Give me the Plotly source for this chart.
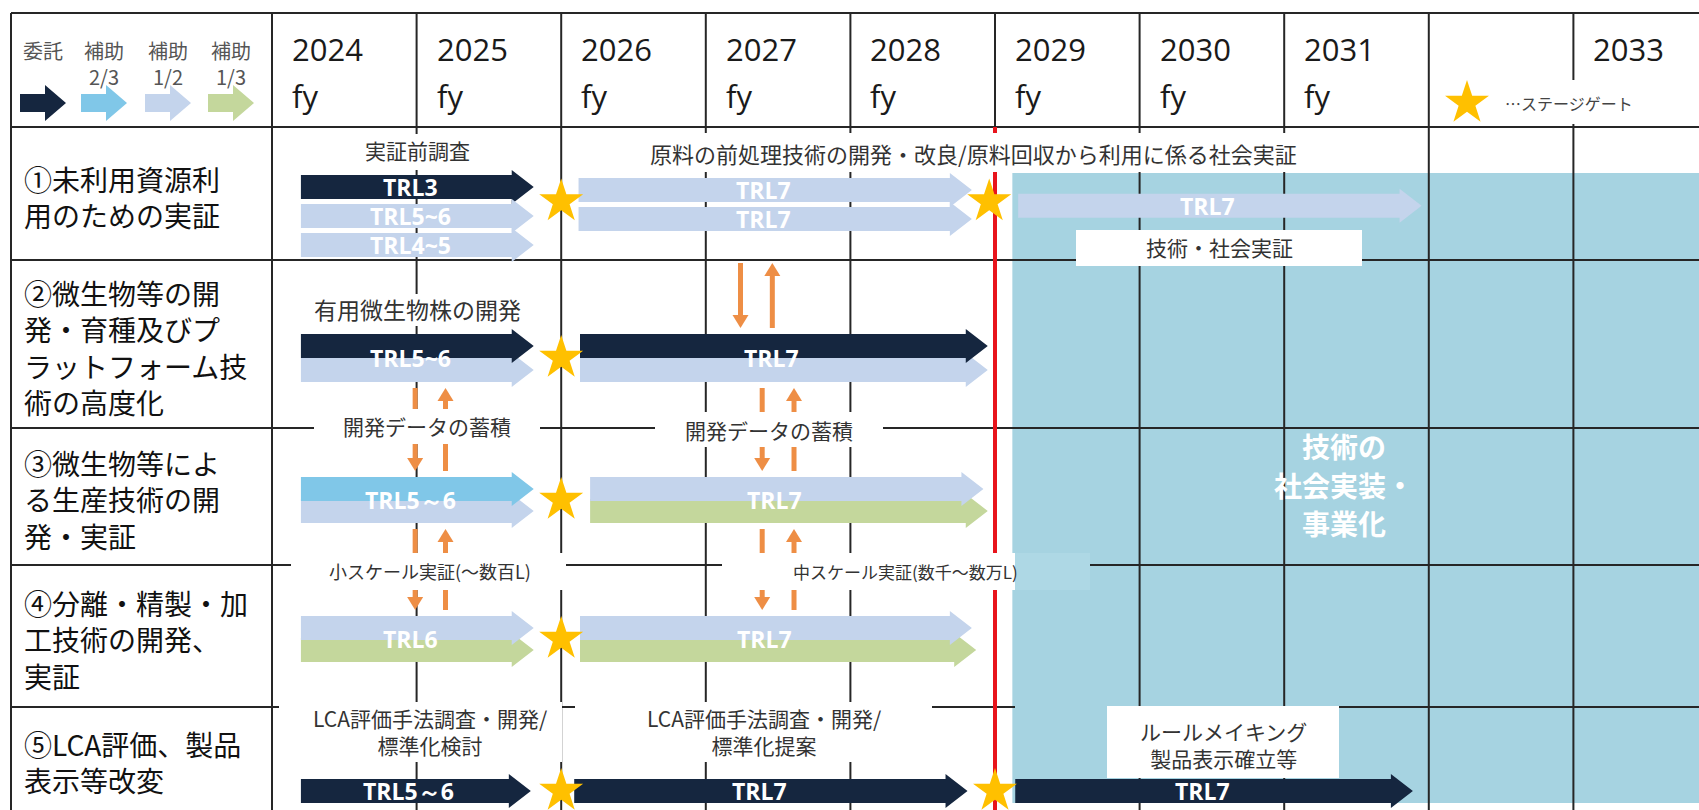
import plotly.graph_objects as go

# ======================= DATA =======================
funding_labels = ["委託", "補助<br>2/3", "補助<br>1/2", "補助<br>1/3"]
funding_colors = ["#15263F", "#80C7E8", "#C4D4EC", "#C4D79C"]

first_year = 2024
year_labels = ["2024", "2025", "2026", "2027", "2028", "2029", "2030", "2031", "", "2033"]
fy_labels = ["fy", "fy", "fy", "fy", "fy", "fy", "fy", "fy", "", ""]

row_labels = [
    ["①未利用資源利", "用のための実証"],
    ["②微生物等の開", "発・育種及びプ", "ラットフォーム技", "術の高度化"],
    ["③微生物等によ", "る生産技術の開", "発・実証"],
    ["④分離・精製・加", "工技術の開発、", "実証"],
    ["⑤LCA評価、製品", "表示等改変"],
]

# TRL arrows (row, lane, start year, end year, funding type, label, label lane)
arrow_row = [0, 0, 0, 0, 0, 0,
             1, 1, 1, 1,
             2, 2, 2, 2,
             3, 3, 3, 3,
             4, 4, 4]
arrow_lane = [0, 1, 2, 0.1, 1.1, 0.65,
              1, 0, 1, 0,
              1, 0, 1, 0,
              1, 0, 1, 0,
              0, 0, 0]
arrow_start = [2024.20, 2024.20, 2024.20, 2026.12, 2026.12, 2029.16,
               2024.20, 2024.20, 2026.13, 2026.13,
               2024.20, 2024.20, 2026.20, 2026.20,
               2024.20, 2024.20, 2026.13, 2026.13,
               2024.20, 2026.09, 2029.14]
arrow_end = [2025.81, 2025.81, 2025.81, 2028.84, 2028.84, 2031.95,
             2025.81, 2025.81, 2028.95, 2028.95,
             2025.81, 2025.81, 2028.95, 2028.92,
             2025.81, 2025.81, 2028.87, 2028.84,
             2025.79, 2028.81, 2031.89]
arrow_kind = [0, 2, 2, 2, 2, 2,
              2, 0, 2, 0,
              2, 1, 3, 2,
              3, 2, 3, 2,
              0, 0, 0]
arrow_text = ["TRL3", "TRL5~6", "TRL4~5", "TRL7", "TRL7", "TRL7",
              "", "TRL5~6", "", "TRL7",
              "", "TRL5～6", "", "TRL7",
              "", "TRL6", "", "TRL7",
              "TRL5～6", "TRL7", "TRL7"]
arrow_text_lane = [0, 1, 2, 0.1, 1.1, 0.65,
                   None, 0.5, None, 0.5,
                   None, 0.5, None, 0.5,
                   None, 0.5, None, 0.5,
                   0, 0, 0]

# stage gates (row, year)
gate_row = [0, 0, 1, 2, 3, 4, 4]
gate_year = [2026.0, 2028.96, 2026.0, 2026.0, 2026.0, 2026.0, 2029.0]

# data-exchange links between rows (upper row, year, direction)
link_upper_row = [0, 0, 1, 1, 1, 1, 2, 2, 2, 2]
link_year = [2027.24, 2027.46, 2024.99, 2025.20, 2027.39, 2027.61,
             2024.99, 2025.20, 2027.39, 2027.61]
link_dir = ["down", "up", "down", "up", "down", "up", "down", "up", "down", "up"]

red_line_year = 2029.0
implementation_start = 2029.12

task_texts = [
    "実証前調査",
    "原料の前処理技術の開発・改良/原料回収から利用に係る社会実証",
    "技術・社会実証",
    "有用微生物株の開発",
    "開発データの蓄積",
    "開発データの蓄積",
    "小スケール実証(～数百L)",
    "中スケール実証(数千～数万L)",
    "LCA評価手法調査・開発/<br>標準化検討",
    "LCA評価手法調査・開発/<br>標準化提案",
    "ルールメイキング<br>製品表示確立等",
]
implementation_lines = ["技術の", "社会実装・", "事業化"]
stage_gate_text = "…ステージゲート"

# ======================= LAYOUT CONSTANTS =======================
W, H = 1699, 810
PX_FIRST = 272.0
COLW = 144.6
TABLE_LEFT = 11
TABLE_TOP = 13
HEADER_BOTTOM = 127
ROW_EDGES = [127, 260, 428, 565, 707, 810]
LANE_Y = [[187, 216, 245], [346, 370], [489, 511], [628, 650], [791]]
SHADE_TOP, SHADE_BOTTOM = 173, 803
SHADE = "#A6D3E1"
GRID = "#262626"
ORANGE = "#EE8E45"
JP = "Noto Sans CJK JP"
LAT = "Open Sans"

# task label placement: (centre px x, centre px y, font size)
task_pos = [(417, 150, 21), (973, 153, 22), (1219, 247, 21), (417, 309, 23),
            (427, 426, 21), (769, 430, 21), (430, 571, 18), (905, 571, 17),
            (430, 731, 21), (764, 731, 21), (1223, 744, 21)]
# white masks behind labels (px x0, x1, y0, y1)
masks = [(355, 480, 134, 170), (635, 1310, 133, 172), (1076, 1362, 230, 266),
         (300, 535, 294, 326), (314, 540, 409, 444), (655, 883, 412, 447),
         (291, 566, 553, 590), (722, 1015, 553, 590), (279, 562, 702, 762),
         (575, 932, 702, 762), (1107, 1339, 706, 778), (1440, 1699, 80, 124)]


def X(px):
    return first_year + (px - PX_FIRST) / COLW


def DX(px):
    return px / COLW


def lane_y(row, lane):
    ys = LANE_Y[row]
    if len(ys) == 1:
        return ys[0]
    return ys[0] + lane * (ys[1] - ys[0])


shapes = []
annotations = []


def add_rect(x0, x1, y0, y1, fill):
    shapes.append(dict(type="rect", xref="x", yref="y", x0=x0, x1=x1, y0=y0, y1=y1,
                       fillcolor=fill, line=dict(width=0), layer="below"))


def add_line(x0, y0, x1, y1, color=GRID, width=2):
    shapes.append(dict(type="line", xref="x", yref="y", x0=x0, y0=y0, x1=x1, y1=y1,
                       line=dict(color=color, width=width), layer="below"))


def add_arrow(x0, x1, yc, color, h=12, hh=17, hl=22):
    xh = x1 - DX(hl)
    path = (f"M{x0},{yc-h} L{xh},{yc-h} L{xh},{yc-hh} L{x1},{yc} "
            f"L{xh},{yc+hh} L{xh},{yc+h} L{x0},{yc+h} Z")
    shapes.append(dict(type="path", xref="x", yref="y", path=path,
                       fillcolor=color, line=dict(width=0), layer="below"))


def add_text(px, py, text, size, color="#333", family=JP, xanchor="center",
             yanchor="middle", align="center"):
    annotations.append(dict(xref="x", yref="y", x=X(px), y=py, text=text, showarrow=False,
                            xanchor=xanchor, yanchor=yanchor, align=align,
                            font=dict(size=size, color=color, family=family)))


# shaded implementation area
add_rect(implementation_start, X(W + 5), SHADE_TOP, SHADE_BOTTOM, SHADE)

# grid lines
for y in [TABLE_TOP, HEADER_BOTTOM] + ROW_EDGES[1:-1]:
    add_line(X(TABLE_LEFT), y, X(W + 5), y)
add_line(X(TABLE_LEFT), TABLE_TOP, X(TABLE_LEFT), H)
for i in range(len(year_labels)):
    add_line(first_year + i, TABLE_TOP, first_year + i, H)

# red line
add_line(red_line_year, HEADER_BOTTOM, red_line_year, H, color="#E8141C", width=4)

# TRL arrows
for r, ln, s, e, k in zip(arrow_row, arrow_lane, arrow_start, arrow_end, arrow_kind):
    add_arrow(s, e, lane_y(r, ln), funding_colors[k])

# orange links
for ur, x, d in zip(link_upper_row, link_year, link_dir):
    top = max(LANE_Y[ur]) + 18
    bot = min(LANE_Y[ur + 1]) - 18
    hw, hl = DX(8), 13
    if d == "down":
        add_line(x, top, x, bot - hl + 1, color=ORANGE, width=5)
        path = f"M{x-hw},{bot-hl} L{x+hw},{bot-hl} L{x},{bot} Z"
    else:
        add_line(x, top + hl - 1, x, bot, color=ORANGE, width=5)
        path = f"M{x-hw},{top+hl} L{x+hw},{top+hl} L{x},{top} Z"
    shapes.append(dict(type="path", xref="x", yref="y", path=path, fillcolor=ORANGE,
                       line=dict(width=0), layer="below"))

# white masks behind labels
for (x0, x1, y0, y1) in masks:
    add_rect(X(x0), X(x1), y0, y1, "white")
# shade-coloured masks over row lines in the shaded area
add_rect(X(1015), X(1090), 553, 590, "#AED8E5")
add_rect(X(1015), X(1107), 700, 714, SHADE)

# legend arrows in header
legend_cx = [43, 104, 168, 231]
for i, c in enumerate(funding_colors):
    add_arrow(X(legend_cx[i] - 23), X(legend_cx[i] + 23), 103, c, h=9, hh=18, hl=21)
    add_text(legend_cx[i], 34, funding_labels[i], 20, color="#555", yanchor="top")

# year header
for i, (yl, fl) in enumerate(zip(year_labels, fy_labels)):
    left_px = PX_FIRST + i * COLW + 18
    if yl:
        add_text(left_px, 49, yl, 31, color="#1a1a1a", family=LAT, xanchor="left")
    if fl:
        add_text(left_px, 96, fl, 31, color="#1a1a1a", family=LAT, xanchor="left")

# stage gate legend text
add_text(1503, 103, stage_gate_text, 16, color="#444", xanchor="left")

# row labels (one block per row)
for r, lines in enumerate(row_labels):
    cy = (ROW_EDGES[r] + ROW_EDGES[r + 1]) / 2 + 3
    add_text(22, cy, "<br>".join(lines), 28, color="#111", xanchor="left", align="left")

# task labels
for t, (px, py, fs) in zip(task_texts, task_pos):
    add_text(px, py, t, fs, color="#333")

# TRL labels on arrows
for r, s, e, t, tl in zip(arrow_row, arrow_start, arrow_end, arrow_text, arrow_text_lane):
    if t and tl is not None:
        cx = s + 0.47 * (e - s)
        annotations.append(dict(xref="x", yref="y", x=cx, y=lane_y(r, tl), text=f"<b>{t}</b>",
                                showarrow=False, xanchor="center", yanchor="middle",
                                font=dict(size=23, color="white", family=LAT)))

# implementation text (one annotation per line)
for j, t in enumerate(implementation_lines):
    add_text(1344, 446 + j * 38.5, f"<b>{t}</b>", 28, color="white")

fig = go.Figure()
gx = list(gate_year)
gy = [(LANE_Y[r][0] + LANE_Y[r][1]) / 2 if len(LANE_Y[r]) > 1 else LANE_Y[r][0] for r in gate_row]
fig.add_trace(go.Scatter(x=gx, y=gy, mode="markers", hoverinfo="skip",
                         marker=dict(symbol="star", size=33, color="#FFC000", line=dict(width=0))))
fig.add_trace(go.Scatter(x=[X(1467)], y=[103], mode="markers", hoverinfo="skip",
                         marker=dict(symbol="star", size=33, color="#FFC000", line=dict(width=0))))

fig.update_layout(
    width=W, height=H, margin=dict(l=0, r=0, t=0, b=0),
    paper_bgcolor="white", plot_bgcolor="white", showlegend=False,
    xaxis=dict(range=[X(0), X(W)], visible=False, fixedrange=True),
    yaxis=dict(range=[H, 0], visible=False, fixedrange=True),
    shapes=shapes, annotations=annotations,
)

fig.write_html("out.html", post_script="document.body.style.margin='0';")
